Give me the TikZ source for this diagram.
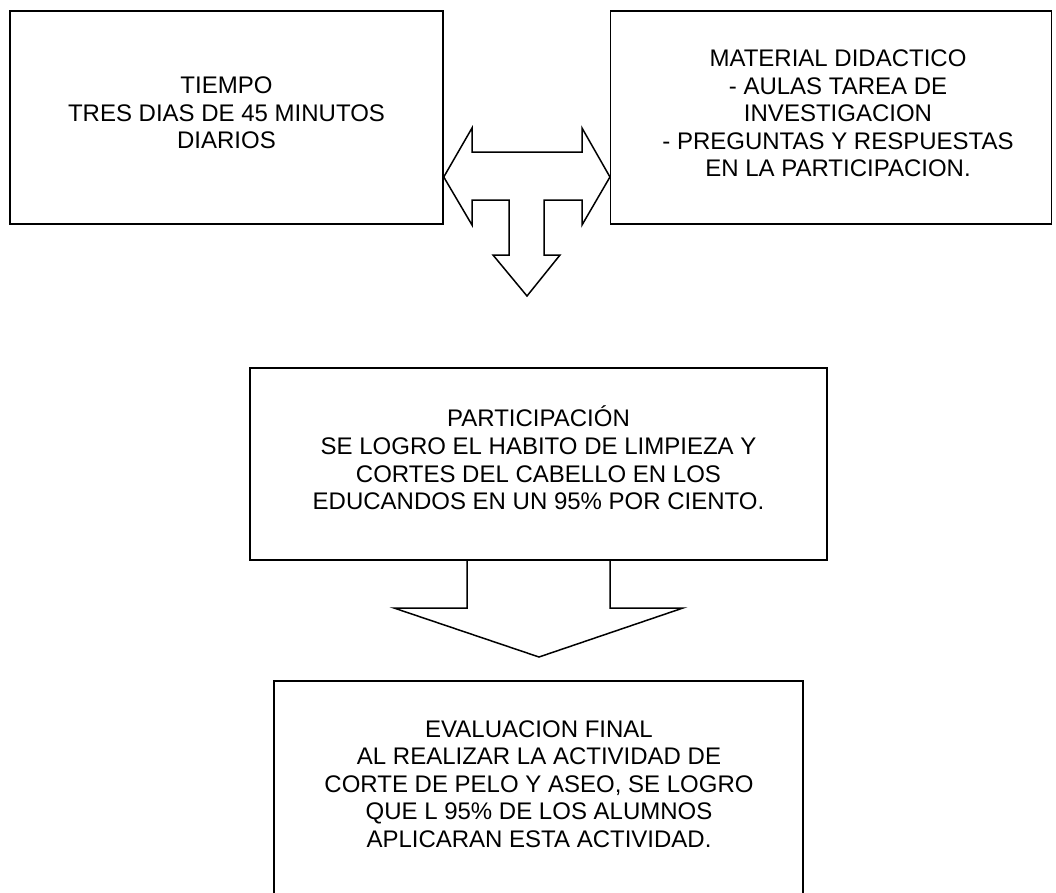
\documentclass[tikz,border=0pt]{standalone}
\usepackage{fontspec}
\setmainfont{Liberation Sans}
\usetikzlibrary{positioning}

\tikzset{
  caja/.style={draw, line width=1.5pt, inner sep=0pt},
  texto/.style={align=center, inner sep=0pt, font=\fontsize{24}{27.6}\selectfont},
  flecha/.style={draw, line width=1.5pt, line join=miter}
}

\begin{document}
\begin{tikzpicture}[x=1pt, y=-1pt]
\useasboundingbox (0,0) rectangle (1056,892);

\def\ya{117.5};
\def\yb{464};
\def\yc{788};

\node[caja, minimum width=433pt, minimum height=213pt] (tiempo) at (226.5, \ya) {};
\node[caja, minimum width=441pt, minimum height=213pt] (material) at (831.2, \ya) {};
\node[caja, minimum width=577pt, minimum height=192pt] (particip) at (538.5, \yb) {};
\node[caja, minimum width=529pt, minimum height=214pt] (evalua) at (538.5, \yc) {};

\node[texto] (tiempotxt) at (226.5, 113) {TIEMPO\\TRES DIAS DE 45 MINUTOS\\DIARIOS};
\node[texto] (materialtxt) at (838, 113.5) {MATERIAL DIDACTICO\\- AULAS TAREA DE\\INVESTIGACION\\- PREGUNTAS Y RESPUESTAS\\EN LA PARTICIPACION.};
\node[texto] (participtxt) at (538.5, 458) {PARTICIPACIÓN\\SE LOGRO EL HABITO DE LIMPIEZA Y\\CORTES DEL CABELLO EN LOS\\EDUCANDOS EN UN 95\% POR CIENTO.};
\node[texto] (evaluatxt) at (539, 784) {EVALUACION FINAL\\AL REALIZAR LA ACTIVIDAD DE\\CORTE DE PELO Y ASEO, SE LOGRO\\QUE L 95\% DE LOS ALUMNOS\\APLICARAN ESTA ACTIVIDAD.};

\coordinate (tl) at (tiempo.east |- 0,177);
\coordinate (tr) at (material.west |- 0,177);
\coordinate (td) at (527, 296);
\draw[flecha] (tl) -- (472,128) -- (472,152) -- (582,152) -- (582,128) -- (tr)
  -- (582,225) -- (582,200) -- (544,200) -- (544,255) -- (560,255) -- (td)
  -- (493,255) -- (509,255) -- (509,200) -- (472,200) -- (472,225) -- cycle;

\coordinate (pl) at (467, 0 |- particip.south);
\coordinate (pr) at (610, 0 |- particip.south);
\coordinate (pd) at (539, 657);
\draw[flecha] (pl) -- (467,608) -- (394,608) -- (pd) -- (683,608) -- (610,608) -- (pr);

\end{tikzpicture}
\end{document}
